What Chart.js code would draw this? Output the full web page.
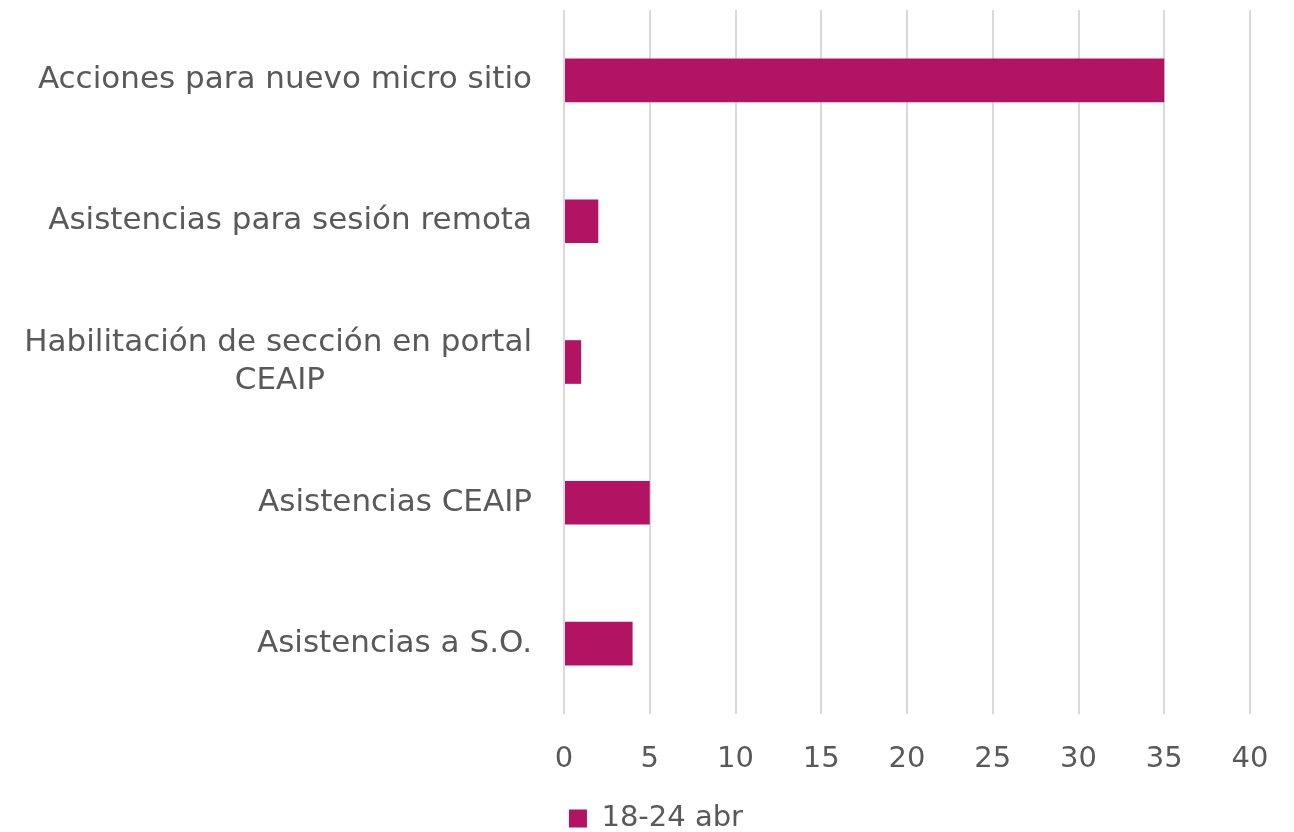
<!DOCTYPE html>
<html>
<head>
<meta charset="utf-8">
<script src="https://cdn.jsdelivr.net/npm/chart.js@4"></script>
<style>
  html, body { margin: 0; padding: 0; background: #fff; }
  #wrap { width: 1294px; height: 832px; }
</style>
</head>
<body>
<div id="wrap"><canvas id="barChart"></canvas></div>
<script>
const categories = [
    "Acciones para nuevo micro sitio",
    "Asistencias para sesión remota",
    ["Habilitación de sección en portal", "CEAIP" + "\u00A0".repeat(21)],
    "Asistencias CEAIP",
    "Asistencias a S.O.",
];
const seriesName = "18-24 abr";
const seriesValues = [35, 2, 1, 5, 4];

const fontFamily = "'DejaVu Sans', sans-serif";
const textColor = "#595959";

// nudge the legend a bit to the right and down, like the original
const shiftLegend = {
    id: "shiftLegend",
    afterLayout(chart) {
        const l = chart.legend;
        l.left += 31;
        l.right += 31;
        l.top += 11;
        l.bottom += 11;
    },
};

const ctx = document.getElementById("barChart").getContext("2d");
const barChart = new Chart(ctx, {
    type: "bar",
    data: {
        labels: categories,
        datasets: [
            {
                label: seriesName,
                data: seriesValues,
                backgroundColor: "#B31363",
                categoryPercentage: 1,
                barPercentage: 0.31,
            },
        ],
    },
    options: {
        indexAxis: "y",
        responsive: true,
        maintainAspectRatio: false,
        animation: false,
        layout: {
            padding: { top: 10, right: 44, left: 0, bottom: 0 },
        },
        scales: {
            x: {
                min: 0,
                max: 40,
                ticks: {
                    stepSize: 5,
                    color: textColor,
                    padding: 28,
                    font: { family: fontFamily, size: 29 },
                },
                grid: {
                    color: "#d9d9d9",
                    lineWidth: 2,
                    drawTicks: false,
                },
                border: { display: false },
                afterFit: (scale) => {
                    scale.height = 75;
                    scale.paddingLeft = 0;
                    scale.paddingRight = 0;
                },
            },
            y: {
                ticks: {
                    color: textColor,
                    padding: 24,
                    font: { family: fontFamily, size: 31, lineHeight: 1.25 },
                },
                grid: { display: false },
                border: { display: false },
                afterFit: (scale) => {
                    scale.width = 564;
                    scale.paddingTop = 0;
                    scale.paddingBottom = 0;
                },
            },
        },
        plugins: {
            legend: {
                position: "bottom",
                labels: {
                    color: textColor,
                    boxWidth: 18,
                    boxHeight: 18,
                    padding: 4,
                    font: { family: fontFamily, size: 29 },
                },
            },
            tooltip: { enabled: false },
        },
    },
    plugins: [shiftLegend],
});
</script>
</body>
</html>
